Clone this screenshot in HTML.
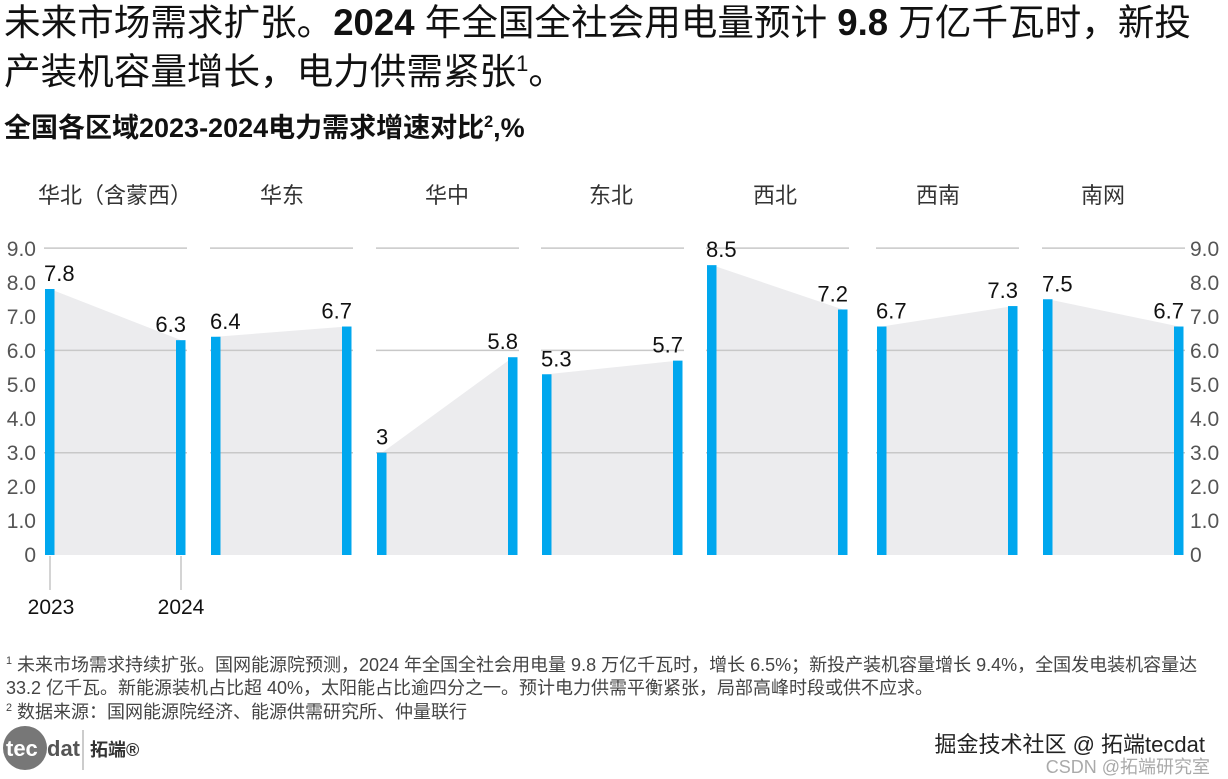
<!DOCTYPE html>
<html><head><meta charset="utf-8"><style>
html,body{margin:0;padding:0;background:#fff;}
body{width:1228px;height:779px;overflow:hidden;position:relative;font-family:"Liberation Sans","Noto Sans CJK SC",sans-serif;}
.t{position:absolute;left:4px;top:2px;font-size:36.6px;line-height:41px;color:#111;white-space:nowrap;}
.t b{font-weight:bold}
.s{position:absolute;left:4px;top:106px;font-size:27px;font-weight:bold;color:#111;white-space:nowrap;}
.f{position:absolute;left:6px;font-size:18px;color:#444;white-space:nowrap;line-height:23px;}
sup{font-size:60%;}
</style></head><body>
<div class="t">未来市场需求扩张。<b>2024</b> 年全国全社会用电量预计 <b>9.8</b> 万亿千瓦时，新投<br>产装机容量增长，电力供需紧张<sup style="font-weight:normal">1</sup>。</div>
<div class="s">全国各区域2023-2024电力需求增速对比<sup>2</sup>,%</div>
<svg width="1228" height="779" style="position:absolute;left:0;top:0" xmlns="http://www.w3.org/2000/svg" font-family="Liberation Sans, Noto Sans CJK SC, sans-serif">
<g font-size="22" fill="#333" text-anchor="middle">
<text x="115" y="203">华北（含蒙西）</text>
<text x="282" y="203">华东</text>
<text x="447" y="203">华中</text>
<text x="611" y="203">东北</text>
<text x="775" y="203">西北</text>
<text x="938" y="203">西南</text>
<text x="1103" y="203">南网</text>
</g>
<g id="p"></g>
<g font-size="21" fill="#555" text-anchor="end">
<text x="36" y="256">9.0</text><text x="36" y="290">8.0</text><text x="36" y="324">7.0</text><text x="36" y="358">6.0</text><text x="36" y="392">5.0</text><text x="36" y="426">4.0</text><text x="36" y="460">3.0</text><text x="36" y="494">2.0</text><text x="36" y="528">1.0</text><text x="36" y="562">0</text>
</g>
<g font-size="21" fill="#555" text-anchor="start">
<text x="1190" y="256">9.0</text><text x="1190" y="290">8.0</text><text x="1190" y="324">7.0</text><text x="1190" y="358">6.0</text><text x="1190" y="392">5.0</text><text x="1190" y="426">4.0</text><text x="1190" y="460">3.0</text><text x="1190" y="494">2.0</text><text x="1190" y="528">1.0</text><text x="1190" y="562">0</text>
</g>
<line x1="50" y1="556" x2="50" y2="590" stroke="#aaa"/>
<line x1="181" y1="556" x2="181" y2="590" stroke="#aaa"/>
<text x="51" y="614" font-size="21" fill="#111" text-anchor="middle">2023</text>
<text x="181" y="614" font-size="21" fill="#111" text-anchor="middle">2024</text>
<text x="1205" y="752" font-size="22" fill="#222" text-anchor="end">掘金技术社区 @ 拓端tecdat</text>
<text x="1210" y="773" font-size="18" fill="#aaa" text-anchor="end">CSDN @拓端研究室</text>
<circle cx="25" cy="748" r="22" fill="#777"/>
<text x="6" y="756" font-size="22" fill="#fff" font-weight="bold">tec</text>
<text x="47" y="756" font-size="22" fill="#555" font-weight="bold">dat</text>
<line x1="83" y1="730" x2="83" y2="770" stroke="#999"/>
<text x="90" y="756" font-size="18" fill="#333" font-weight="bold">拓端®</text>
</svg>
<div class="f" style="top:650px"><sup>1</sup> 未来市场需求持续扩张。国网能源院预测，2024 年全国全社会用电量 9.8 万亿千瓦时，增长 6.5%；新投产装机容量增长 9.4%，全国发电装机容量达<br>33.2 亿千瓦。新能源装机占比超 40%，太阳能占比逾四分之一。预计电力供需平衡紧张，局部高峰时段或供不应求。</div>
<div class="f" style="top:697px"><sup>2</sup> 数据来源：国网能源院经济、能源供需研究所、仲量联行</div>
<script>
var P=[[44,187,7.8,6.3],[210,353,6.4,6.7],[376,519,3,5.8],[541,684,5.3,5.7],[706,849,8.5,7.2],[876,1019,6.7,7.3],[1042,1185,7.5,6.7]];
var base=555,u=34.1,h='';
function y(v){return base-v*u;}
P.forEach(function(p){
 var a=p[0],b=p[1],l=a+1,r=b-11;
 h+='<polygon points="'+(l+5)+','+y(p[2])+' '+(r+5)+','+y(p[3])+' '+(r+5)+','+base+' '+(l+5)+','+base+'" fill="#ececee"/>';
 [9,6,3].forEach(function(g){h+='<line x1="'+a+'" x2="'+b+'" y1="'+y(g)+'" y2="'+y(g)+'" stroke="#c8c8c8" stroke-width="1.5"/>';});
 h+='<rect x="'+l+'" y="'+y(p[2])+'" width="9.5" height="'+(p[2]*u)+'" fill="#00a7ee"/>';
 h+='<rect x="'+r+'" y="'+y(p[3])+'" width="9.5" height="'+(p[3]*u)+'" fill="#00a7ee"/>';
 h+='<text x="'+(l-1)+'" y="'+(y(p[2])-8)+'" font-size="22" fill="#111">'+p[2]+'</text>';
 h+='<text x="'+(r+10)+'" y="'+(y(p[3])-8)+'" font-size="22" fill="#111" text-anchor="end">'+p[3]+'</text>';
});
document.getElementById('p').innerHTML=h;
</script>
</body></html>
